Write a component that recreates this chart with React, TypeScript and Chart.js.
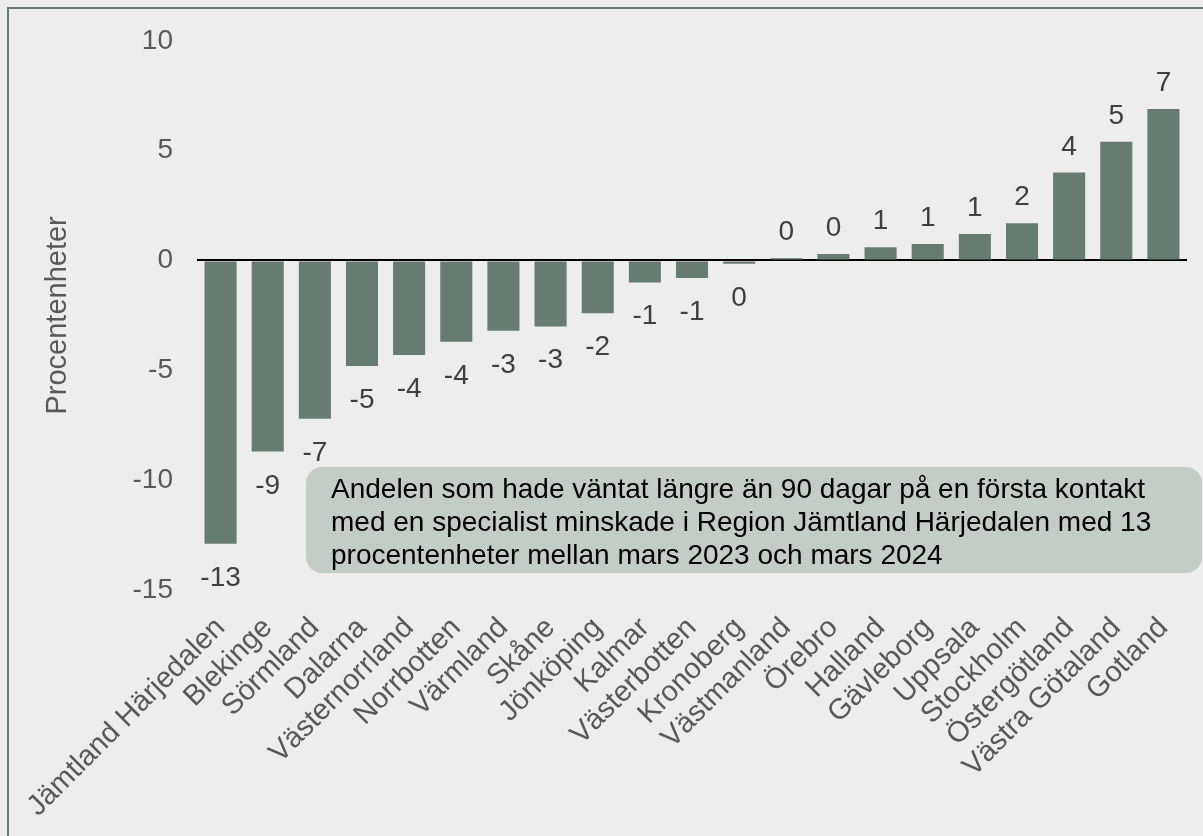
import React, { useEffect, useRef } from "react";
import { Chart, registerables } from "chart.js";

Chart.register(...registerables);

const categories: string[] = [
  "Jämtland Härjedalen", "Blekinge", "Sörmland", "Dalarna", "Västernorrland",
  "Norrbotten", "Värmland", "Skåne", "Jönköping", "Kalmar", "Västerbotten",
  "Kronoberg", "Västmanland", "Örebro", "Halland", "Gävleborg", "Uppsala",
  "Stockholm", "Östergötland", "Västra Götaland", "Gotland",
];

const values: number[] = [
  -12.9, -8.7, -7.2, -4.8, -4.3, -3.7, -3.2, -3.0, -2.4, -1.0, -0.8, -0.15,
  0.1, 0.3, 0.6, 0.75, 1.2, 1.7, 4.0, 5.4, 6.9,
];

const yMin = -15;
const yMax = 10;
const yStep = 5;
const yTitle = "Procentenheter";
const noteLines: string[] = [
  "Andelen som hade väntat längre än 90 dagar på en första kontakt",
  "med en specialist minskade i Region Jämtland Härjedalen med 13",
  "procentenheter mellan mars 2023 och mars 2024",
];

const FONT = "'Liberation Sans', Arial, sans-serif";
const BAR = "#667B71";

const labelPlugin = {
  id: "valueLabels",
  afterDatasetsDraw(chart: any) {
    const ctx = chart.ctx;
    const meta = chart.getDatasetMeta(0);
    ctx.save();
    ctx.font = `28px ${FONT}`;
    ctx.fillStyle = "#404040";
    ctx.textAlign = "center";
    ctx.textBaseline = "alphabetic";
    meta.data.forEach((bar: any, i: number) => {
      const v = values[i];
      const r = Math.round(v);
      const txt = String(r === 0 ? 0 : r);
      if (v >= 0) {
        ctx.fillText(txt, bar.x, bar.y - 18);
      } else {
        ctx.fillText(txt, bar.x, bar.y + 42);
      }
    });
    // y axis title
    ctx.font = `29px ${FONT}`;
    ctx.fillStyle = "#595959";
    ctx.textBaseline = "middle";
    ctx.translate(58, (chart.chartArea.top + chart.chartArea.bottom) / 2);
    ctx.rotate(-Math.PI / 2);
    ctx.fillText(yTitle, 0, 0);
    ctx.restore();
  },
};

export default function App() {
  const ref = useRef<HTMLCanvasElement | null>(null);
  useEffect(() => {
    if (!ref.current) return;
    const chart = new Chart(ref.current, {
      type: "bar",
      data: {
        labels: categories,
        datasets: [
          {
            data: values,
            backgroundColor: BAR,
            barPercentage: 0.68,
            categoryPercentage: 1,
          },
        ],
      },
      options: {
        animation: false,
        responsive: false,
        devicePixelRatio: 1,
        layout: { padding: { top: 38, right: 16, left: 0, bottom: 0 } },
        plugins: { legend: { display: false }, tooltip: { enabled: false } },
        scales: {
          x: {
            grid: { display: false, drawTicks: false },
            border: { display: false },
            ticks: {
              autoSkip: false,
              minRotation: 45,
              maxRotation: 45,
              padding: 21,
              color: "#595959",
              font: { family: FONT, size: 29 },
            },
            afterFit(scale: any) {
              scale.height = 246;
              scale.paddingRight = 0;
              scale.paddingLeft = 0;
            },
          },
          y: {
            min: yMin,
            max: yMax,
            border: { display: false },
            grid: {
              drawTicks: false,
              lineWidth: 2,
              color: (c: any) => (c.tick && c.tick.value === 0 ? "#000000" : "rgba(0,0,0,0)"),
            },
            ticks: {
              stepSize: yStep,
              padding: 24,
              color: "#595959",
              font: { family: FONT, size: 28 },
            },
            afterFit(scale: any) {
              scale.width = 197;
            },
          },
        },
      },
      plugins: [labelPlugin],
    });
    return () => chart.destroy();
  }, []);

  return (
    <div
      style={{
        position: "fixed",
        left: 0,
        top: 0,
        width: 1203,
        height: 836,
        background: "#EDEDED",
        overflow: "hidden",
      }}
    >
      <div
        style={{
          position: "absolute",
          left: 7,
          top: 7,
          width: 1400,
          height: 1000,
          border: "2px solid #667B71",
        }}
      />
      <canvas
        ref={ref}
        width={1203}
        height={836}
        style={{ position: "absolute", left: 0, top: 0, width: 1203, height: 836 }}
      />
      <div
        style={{
          position: "absolute",
          left: 306,
          top: 467,
          width: 896,
          height: 106,
          boxSizing: "border-box",
          borderRadius: 16,
          background: "#C3CCC7",
          padding: "5px 0 0 25px",
          fontFamily: FONT,
          fontSize: 28,
          lineHeight: "33px",
          color: "#000000",
          whiteSpace: "nowrap",
        }}
      >
        {noteLines.map((l, i) => (
          <div key={i}>{l}</div>
        ))}
      </div>
    </div>
  );
}
